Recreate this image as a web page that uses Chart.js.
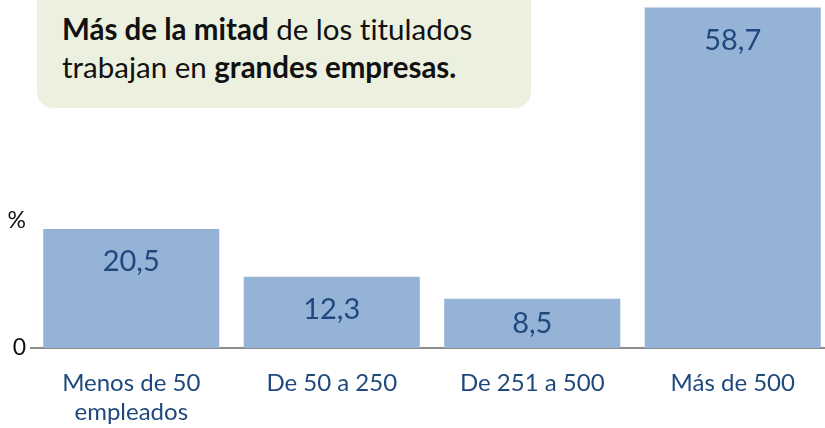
<!DOCTYPE html>
<html>
<head>
<meta charset="utf-8">
<script src="https://cdn.jsdelivr.net/npm/chart.js@4/dist/chart.umd.min.js"></script>
<style>
    html, body { margin: 0; padding: 0; background: #fff; overflow: hidden; }
    #wrap { position: relative; width: 833px; height: 428px; }
    #nota {
        position: absolute; left: 37px; top: -16px; width: 494px; height: 124px;
        background: #EBF0DF; border-radius: 16px; box-sizing: border-box;
        padding: 26px 0 0 25px; font-family: Lato, 'Open Sans', sans-serif;
        font-size: 29.5px; line-height: 38px; color: #111; white-space: nowrap;
        font-variant-ligatures: none;
    }
</style>
</head>
<body>
<div id="wrap">
    <canvas id="grafico" width="833" height="428"></canvas>
    <div id="nota"><b>Más de la mitad</b> de los titulados<br>trabajan en <b>grandes empresas.</b></div>
</div>
<script>
// Datos del gráfico
const categorias = [['Menos de 50', 'empleados'], 'De 50 a 250', 'De 251 a 500', 'Más de 500'];
const porcentajes = [20.5, 12.3, 8.5, 58.7];
const ejeYValores = [0, 22];
const ejeYEtiquetas = ['0', '%'];

const fuente = 'Lato, "Open Sans", sans-serif';
const azulTexto = '#1F497D';

// Etiquetas de valor dentro de cada barra
const etiquetasBarras = {
    id: 'etiquetasBarras',
    afterDatasetsDraw(chart) {
        const ctx = chart.ctx;
        const meta = chart.getDatasetMeta(0);
        ctx.save();
        ctx.font = '29px ' + fuente;
        ctx.fillStyle = azulTexto;
        ctx.textAlign = 'center';
        ctx.textBaseline = 'middle';
        meta.data.forEach((bar, i) => {
            const yLabel = Math.min(bar.y + 33, (bar.y + bar.base) / 2);
            ctx.fillText(porcentajes[i].toFixed(1).replace('.', ','), bar.x, yLabel);
        });
        ctx.restore();
    }
};

const ctx = document.getElementById('grafico').getContext('2d');
new Chart(ctx, {
    type: 'bar',
    data: {
        labels: categorias,
        datasets: [{
            data: porcentajes,
            backgroundColor: '#95B3D7',
            borderWidth: 0,
            barPercentage: 0.878,
            categoryPercentage: 1
        }]
    },
    options: {
        responsive: false,
        animation: false,
        layout: { padding: 0 },
        scales: {
            x: {
                afterFit: axis => { axis.height = 80; },
                grid: { display: false, drawTicks: false },
                border: { display: true, color: '#8C8C8C', width: 2 },
                ticks: {
                    color: azulTexto,
                    font: { family: fuente, size: 24, lineHeight: 1.2 },
                    padding: 21,
                    maxRotation: 0,
                    autoSkip: false
                }
            },
            y: {
                min: 0,
                max: 60,
                afterBuildTicks: axis => {
                    axis.ticks = ejeYValores.map(v => ({ value: v }));
                },
                afterFit: axis => {
                    axis.width = 31;
                    axis.paddingTop = 0;
                    axis.paddingBottom = 0;
                },
                grid: { display: false, drawTicks: false },
                border: { display: false },
                ticks: {
                    color: '#111',
                    font: { family: fuente, size: 23 },
                    padding: 5,
                    callback: (v, i) => ejeYEtiquetas[i]
                }
            }
        },
        plugins: {
            legend: { display: false },
            tooltip: { enabled: false }
        }
    },
    plugins: [etiquetasBarras]
});
</script>
</body>
</html>
